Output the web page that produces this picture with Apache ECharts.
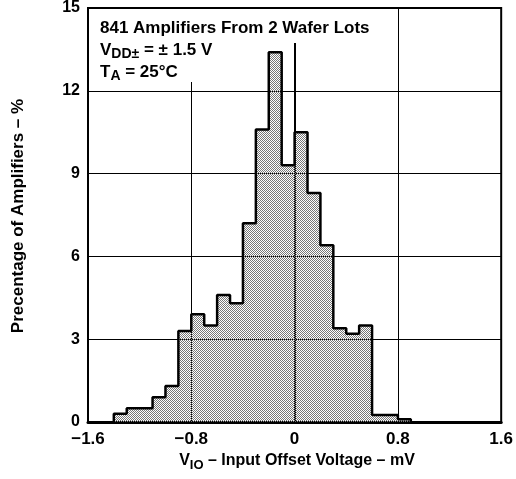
<!DOCTYPE html>
<html>
<head>
<meta charset="utf-8">
<script src="https://cdn.jsdelivr.net/npm/echarts@6/dist/echarts.min.js"></script>
<style>
  html, body { margin: 0; padding: 0; background: #fff; }
  #chart { width: 516px; height: 479px; }
</style>
</head>
<body>
<div id="chart"></div>
<script>
// histogram bins (left edge, mV) and share of amplifiers (%)
var binStarts = [-1.4, -1.3, -1.2, -1.1, -1.0, -0.9, -0.8, -0.7, -0.6, -0.5, -0.4, -0.3,
                 -0.2, -0.1, 0.0, 0.1, 0.2, 0.3, 0.4, 0.5, 0.6, 0.7, 0.8];
var percentages = [0.3, 0.5, 0.5, 0.9, 1.3, 3.3, 3.9, 3.5, 4.6, 4.3, 7.2, 10.6,
                   13.4, 9.3, 10.5, 8.3, 6.4, 3.4, 3.2, 3.5, 0.25, 0.25, 0.1];
var binWidth = 0.1;
var xTicks = [-1.6, -0.8, 0, 0.8, 1.6];
var yTicks = [0, 3, 6, 9, 12, 15];

// step outline points
var stepData = [[binStarts[0], 0]];
binStarts.forEach(function (x, i) { stepData.push([x, percentages[i]]); });
stepData.push([+(binStarts[binStarts.length - 1] + binWidth).toFixed(2), 0]);

// stipple fill, half the pixels transparent so the grid shows through
var pat = document.createElement('canvas');
pat.width = 2; pat.height = 2;
var pc = pat.getContext('2d');
pc.fillStyle = '#777';
pc.fillRect(0, 0, 1, 1);
pc.fillRect(1, 1, 1, 1);

var FONT = '"Liberation Sans", Arial, Helvetica, sans-serif';

var chart = echarts.init(document.getElementById('chart'), null, { renderer: 'canvas' });

chart.setOption({
  animation: false,
  backgroundColor: '#fff',
  grid: {
    left: 88, right: 14, top: 7, bottom: 57,
    show: true, borderColor: '#000', borderWidth: 2, backgroundColor: 'transparent'
  },
  xAxis: {
    type: 'value',
    min: xTicks[0], max: xTicks[xTicks.length - 1], interval: 0.8,
    axisLine: { show: true, lineStyle: { color: '#000', width: 3 } },
    axisTick: { show: false },
    splitLine: { show: true, lineStyle: { color: '#000', width: 1 } },
    axisLabel: {
      color: '#000', fontFamily: FONT, fontWeight: 'bold', fontSize: 17, margin: 9,
      formatter: function (v) { return v < 0 ? '\u2212' + Math.abs(v) : String(v); }
    }
  },
  yAxis: {
    type: 'value',
    min: yTicks[0], max: yTicks[yTicks.length - 1], interval: 3,
    axisLine: { show: true, lineStyle: { color: '#000', width: 2 } },
    axisTick: { show: false },
    splitLine: { show: true, lineStyle: { color: '#000', width: 1 } },
    axisLabel: { color: '#000', fontFamily: FONT, fontWeight: 'bold', fontSize: 16, margin: 8 }
  },
  series: [{
    type: 'line',
    step: 'end',
    data: stepData,
    symbol: 'none',
    lineStyle: { color: '#000', width: 2.5 },
    areaStyle: { color: { image: pat, repeat: 'repeat' }, opacity: 1 },
    z: 3
  }],
  graphic: [
    { type: 'rect', z: 10, shape: { x: 90, y: 9, width: 290, height: 34 }, style: { fill: '#fff' } },
    { type: 'rect', z: 10, shape: { x: 90, y: 43, width: 132, height: 39 }, style: { fill: '#fff' } },
    {
      type: 'text', z: 11, x: 100, y: 28,
      style: { text: '841 Amplifiers From 2 Wafer Lots', fill: '#000',
               font: 'bold 17px ' + FONT, verticalAlign: 'middle' }
    },
    {
      type: 'text', z: 11, x: 100, y: 50,
      style: {
        text: '{m|V}{s|DD\u00b1}{m| = \u00b1 1.5 V}', verticalAlign: 'middle',
        rich: {
          m: { fontFamily: FONT, fontWeight: 'bold', fontSize: 17, fill: '#000', lineHeight: 20 },
          s: { fontFamily: FONT, fontWeight: 'bold', fontSize: 14, fill: '#000', lineHeight: 20, padding: [9, 0, 0, 0] }
        }
      }
    },
    {
      type: 'text', z: 11, x: 100, y: 72,
      style: {
        text: '{m|T}{s|A}{m| = 25\u00b0C}', verticalAlign: 'middle',
        rich: {
          m: { fontFamily: FONT, fontWeight: 'bold', fontSize: 17, fill: '#000', lineHeight: 20 },
          s: { fontFamily: FONT, fontWeight: 'bold', fontSize: 14, fill: '#000', lineHeight: 20, padding: [9, 0, 0, 0] }
        }
      }
    },
    {
      type: 'text', z: 11, x: 297, y: 461,
      style: {
        text: '{m|V}{s|IO}{m| \u2013 Input Offset Voltage \u2013 mV}', align: 'center', verticalAlign: 'middle',
        rich: {
          m: { fontFamily: FONT, fontWeight: 'bold', fontSize: 16, fill: '#000', lineHeight: 20 },
          s: { fontFamily: FONT, fontWeight: 'bold', fontSize: 13, fill: '#000', lineHeight: 20, padding: [8, 0, 0, 0] }
        }
      }
    },
    {
      type: 'text', z: 11, x: 18, y: 216, rotation: Math.PI / 2,
      style: { text: 'Precentage of Amplifiers \u2013 %', fill: '#000',
               font: 'bold 17px ' + FONT, align: 'center', verticalAlign: 'middle' }
    }
  ]
});
</script>
</body>
</html>
